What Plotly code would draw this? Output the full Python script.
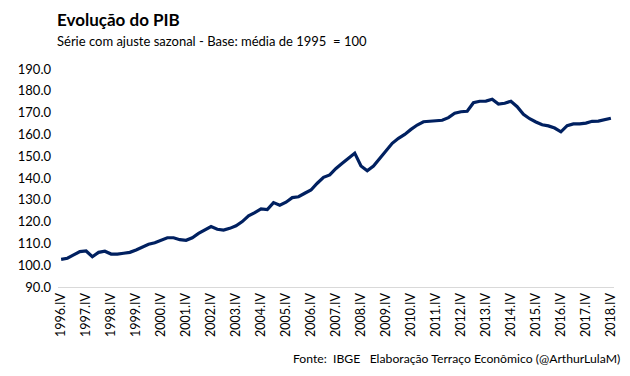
import plotly.graph_objects as go

# Data: quarters 1996.IV .. 2018.IV
start_year, start_q = 1996, 4
n_points = 89
roman = ["I", "II", "III", "IV"]
quarters = []
y, q = start_year, start_q
for _ in range(n_points):
    quarters.append(f"{y}.{roman[q-1]}")
    q += 1
    if q > 4:
        q = 1
        y += 1

pib = [
    102.7, 103.2, 104.7, 106.2, 106.5, 103.9, 105.9, 106.4, 105.1, 105.1,
    105.5, 105.9, 107.0, 108.5, 109.6, 110.3, 111.6, 112.6, 112.6, 111.7,
    111.4, 112.6, 114.6, 116.1, 117.7, 116.5, 116.1, 116.9, 118.1, 120.0,
    122.6, 124.1, 125.8, 125.5, 128.7, 127.5, 128.9, 131.0, 131.4, 133.0,
    134.5, 137.6, 140.3, 141.4, 144.4, 146.8, 149.0, 151.4, 145.5, 143.3,
    145.5, 149.0, 152.8, 155.9, 158.2, 160.0, 162.3, 164.3, 165.8, 166.0,
    166.5, 166.5, 167.7, 169.7, 170.4, 170.6, 174.5, 175.2, 175.3, 176.1,
    173.9, 174.3, 175.2, 172.7, 169.2, 167.2, 165.7, 164.4, 163.9, 162.9,
    161.2, 164.0, 164.8, 164.8, 165.2, 166.0, 166.1, 166.9, 167.4,
]

tick_labels = [lab for lab in quarters if lab.endswith(".IV")]
y_ticks = [90, 100, 110, 120, 130, 140, 150, 160, 170, 180, 190]

title = "Evolução do PIB"
subtitle = "Série com ajuste sazonal - Base: média de 1995  = 100"
footer = "Fonte:  IBGE   Elaboração Terraço Econômico (@ArthurLulaM)"

FONT = "Lato, Calibri, Noto Sans, sans-serif"

fig = go.Figure()
fig.add_trace(go.Scatter(
    x=quarters, y=pib, mode="lines",
    line=dict(color="#002060", width=3.2, shape="linear"),
    hoverinfo="x+y",
))

fig.update_layout(
    width=630, height=376,
    margin=dict(l=58, r=14, t=69, b=89),
    paper_bgcolor="white", plot_bgcolor="white",
    showlegend=False,
    font=dict(family=FONT, color="#000000"),
    xaxis=dict(
        type="category",
        categoryorder="array", categoryarray=quarters,
        range=[-0.5, n_points - 0.5],
        tickmode="array", tickvals=tick_labels, ticktext=tick_labels,
        tickangle=-90,
        tickfont=dict(size=12.5, color="#000000", family=FONT),
        showgrid=False, zeroline=False,
        showline=True, linecolor="#d9d9d9", linewidth=1,
        ticks="", ticklen=0,
    ),
    yaxis=dict(
        range=[90, 190],
        tickmode="array", tickvals=y_ticks,
        ticktext=[f"{v:.1f}" for v in y_ticks],
        tickfont=dict(size=13, color="#000000", family=FONT),
        showgrid=False, zeroline=False, showline=False,
        ticks="", ticklabelstandoff=6,
    ),
    annotations=[
        dict(text=f"<b>{title}</b>", xref="paper", yref="paper",
             x=(55 - 58) / 558, y=(287 - 20) / 218, xanchor="left", yanchor="middle",
             showarrow=False, font=dict(size=17, color="#000000", family=FONT)),
        dict(text=subtitle, xref="paper", yref="paper",
             x=(55 - 58) / 558, y=(287 - 41) / 218, xanchor="left", yanchor="middle",
             showarrow=False, font=dict(size=13, color="#000000", family=FONT)),
        dict(text=footer, xref="paper", yref="paper",
             x=(624 - 58) / 558, y=(287 - 358) / 218, xanchor="right", yanchor="middle",
             showarrow=False, font=dict(size=12.2, color="#000000", family=FONT)),
    ],
)

fig.write_html(
    "out.html",
    config={"displayModeBar": False},
    post_script="document.body.style.margin='0';document.body.style.padding='0';",
)
